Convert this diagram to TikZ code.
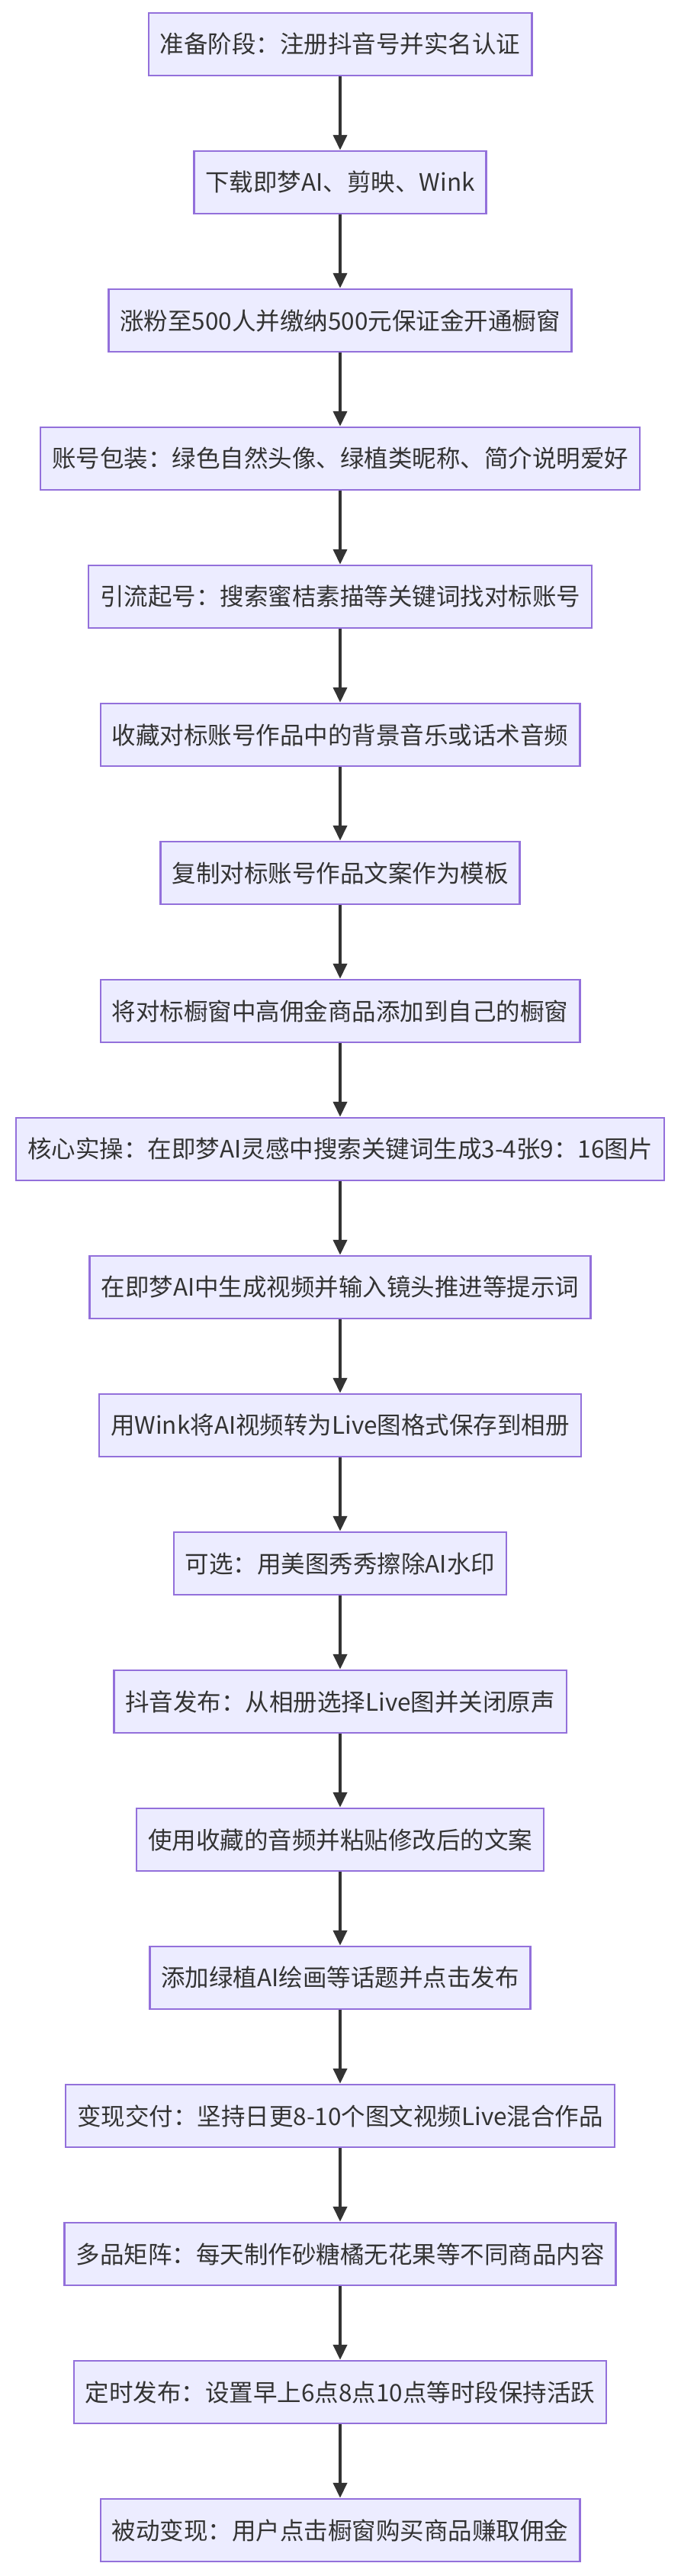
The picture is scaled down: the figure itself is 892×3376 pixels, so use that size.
\documentclass[tikz,border=0pt]{standalone}
\usepackage{fontspec}
\setmainfont{Noto Sans CJK SC}
\usetikzlibrary{arrows.meta}
\definecolor{boxfill}{HTML}{ECECFF}
\definecolor{boxdraw}{HTML}{9370DB}
\definecolor{linec}{HTML}{333333}
\begin{document}
\begin{tikzpicture}
    % 样式
    \tikzset{
        stepbox/.style={rectangle, fill=boxfill, draw=boxdraw, line width=2.5pt,
            minimum height=82pt, inner xsep=15pt, font=\fontsize{31.5}{36}\selectfont, text=linec},
        flow/.style={-{Triangle[length=20pt,width=18pt]}, line width=4pt, draw=linec},
    }

    % 背景与边界
    \path[use as bounding box] (0,0) rectangle (892pt,-3376pt);

    % 绘制步骤节点
    \foreach \t [count=\i] in {
        准备阶段：注册抖音号并实名认证,
        下载即梦AI、剪映、Wink,
        涨粉至500人并缴纳500元保证金开通橱窗,
        账号包装：绿色自然头像、绿植类昵称、简介说明爱好,
        引流起号：搜索蜜桔素描等关键词找对标账号,
        收藏对标账号作品中的背景音乐或话术音频,
        复制对标账号作品文案作为模板,
        将对标橱窗中高佣金商品添加到自己的橱窗,
        核心实操：在即梦AI灵感中搜索关键词生成3-4张9：16图片,
        在即梦AI中生成视频并输入镜头推进等提示词,
        用Wink将AI视频转为Live图格式保存到相册,
        可选：用美图秀秀擦除AI水印,
        抖音发布：从相册选择Live图并关闭原声,
        使用收藏的音频并粘贴修改后的文案,
        添加绿植AI绘画等话题并点击发布,
        变现交付：坚持日更8-10个图文视频Live混合作品,
        多品矩阵：每天制作砂糖橘无花果等不同商品内容,
        定时发布：设置早上6点8点10点等时段保持活跃,
        被动变现：用户点击橱窗购买商品赚取佣金} {
        \node[stepbox] (s\i) at (446pt,{-58pt-181pt*(\i-1)}) {\t};
    }

    % 连接箭头
    \foreach \i [evaluate=\i as \j using int(\i+1)] in {1,...,18} {
        \draw[flow] (s\i) -- (s\j);
    }
\end{tikzpicture}
\end{document}
